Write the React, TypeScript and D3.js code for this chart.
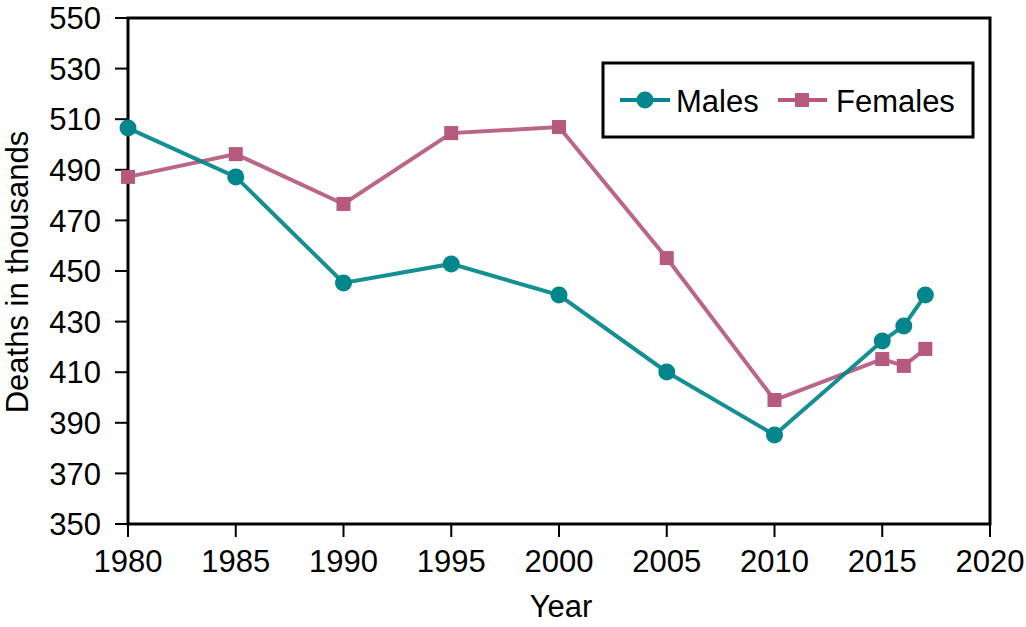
import React from "react";
import * as d3 from "d3";

const years = [1980, 1985, 1990, 1995, 2000, 2005, 2010, 2015, 2016, 2017];
const males = [506.5, 487.2, 445.3, 452.8, 440.5, 410.1, 385.2, 422.3, 428.3, 440.5];
const females = [487.2, 496.2, 476.5, 504.5, 506.9, 455.1, 399.0, 415.2, 412.5, 419.2];
const xTicks = [1980, 1985, 1990, 1995, 2000, 2005, 2010, 2015, 2020];
const yTicks = [350, 370, 390, 410, 430, 450, 470, 490, 510, 530, 550];

const TEAL = "#00868B";
const PINK = "#B5597F";
const FONT = "Liberation Sans, Arial, sans-serif";

export default function App() {
  const W = 1026, H = 627;
  const left = 128, right = 990, top = 18, bottom = 524;
  const x = d3.scaleLinear().domain([1980, 2020]).range([left, right]);
  const y = d3.scaleLinear().domain([350, 550]).range([bottom, top]);
  const line = d3.line<number>().x((_, i) => x(years[i])).y((v) => y(v));
  const fs = 31;
  return (
    <svg width={W} height={H} style={{ position: "absolute", left: 0, top: 0 }} fontFamily={FONT}>
      <rect width={W} height={H} fill="white" />
      <rect x={left} y={top} width={right - left} height={bottom - top} fill="none" stroke="black" strokeWidth={3} />
      {yTicks.map((t) => (
        <g key={t}>
          <line x1={left - 13} x2={left} y1={y(t)} y2={y(t)} stroke="black" strokeWidth={2} />
          <text x={left - 27} y={y(t)} dy="0.36em" textAnchor="end" fontSize={fs}>{t}</text>
        </g>
      ))}
      {xTicks.map((t) => (
        <g key={t}>
          <line x1={x(t)} x2={x(t)} y1={bottom} y2={bottom + 13} stroke="black" strokeWidth={2} />
          <text x={x(t)} y={572} textAnchor="middle" fontSize={fs}>{t}</text>
        </g>
      ))}
      <text x={(left + right) / 2 + 2} y={617} textAnchor="middle" fontSize={fs}>Year</text>
      <text transform={`translate(28,${272}) rotate(-90)`} textAnchor="middle" fontSize={fs}>Deaths in thousands</text>

      <path d={line(females) || ""} fill="none" stroke={PINK} strokeWidth={4} strokeOpacity={0.92} />
      {females.map((v, i) => (
        <rect key={i} x={x(years[i]) - 7} y={y(v) - 7} width={14} height={14} fill={PINK} />
      ))}
      <path d={line(males) || ""} fill="none" stroke={TEAL} strokeWidth={4} strokeOpacity={0.92} />
      {males.map((v, i) => (
        <circle key={i} cx={x(years[i])} cy={y(v)} r={8.5} fill={TEAL} />
      ))}

      <rect x={603} y={63} width={370} height={74} fill="white" stroke="black" strokeWidth={3} />
      <line x1={620} x2={670} y1={100} y2={100} stroke={TEAL} strokeWidth={4} />
      <circle cx={645} cy={100} r={8.5} fill={TEAL} />
      <text x={676} y={112} fontSize={31}>Males</text>
      <line x1={778} x2={827} y1={100} y2={100} stroke={PINK} strokeWidth={4} />
      <rect x={795} y={93} width={14} height={14} fill={PINK} />
      <text x={836} y={112} fontSize={31}>Females</text>
    </svg>
  );
}
